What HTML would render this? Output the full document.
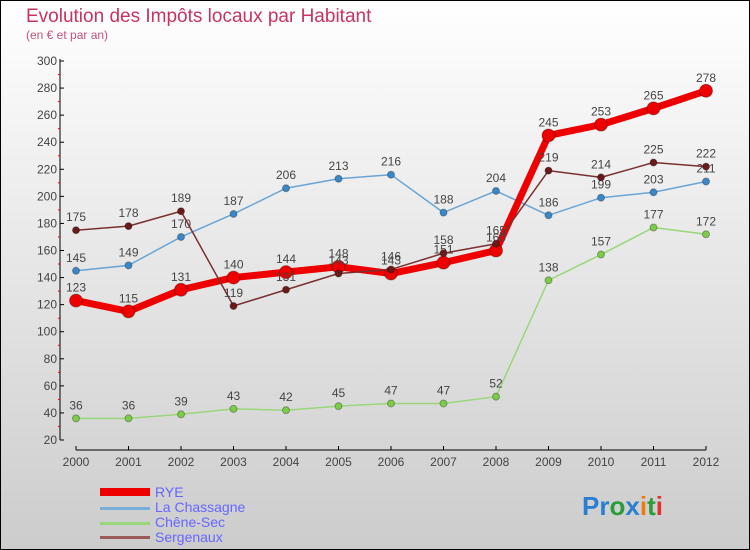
<!DOCTYPE html>
<html><head><meta charset="utf-8"><style>
body{margin:0;width:750px;height:550px;overflow:hidden}
svg{display:block;font-family:"Liberation Sans",sans-serif}
</style></head><body>
<svg id="c" width="750" height="550">
<defs><linearGradient id="bg" x1="0" y1="0" x2="0" y2="1"><stop offset="0" stop-color="#ffffff"/><stop offset="1" stop-color="#cccccc"/></linearGradient></defs>
<rect x="0.5" y="0.5" width="749" height="549" fill="url(#bg)" stroke="#000"/>
<text x="26" y="22" font-size="19" fill="#c8335f">Evolution des Impôts locaux par Habitant</text>
<text x="26" y="39" font-size="12" fill="#c8507a">(en € et par an)</text>
<g id="axes"></g><g id="series"></g>
<g>
<rect x="100" y="488" width="50" height="8" fill="#e00"/>
<text x="155" y="497" font-size="14" fill="#6666ff">RYE</text>
<rect x="100" y="507" width="50" height="3" fill="#7aaed6"/>
<text x="155" y="512" font-size="14" fill="#6666ff">La Chassagne</text>
<rect x="100" y="522" width="50" height="3" fill="#9ad67a"/>
<text x="155" y="527" font-size="14" fill="#6666ff">Chêne-Sec</text>
<rect x="100" y="536" width="50" height="3" fill="#9a5a5a"/>
<text x="155" y="542" font-size="14" fill="#6666ff">Sergenaux</text>
</g>
<text x="582" y="515" font-size="26" font-weight="bold"><tspan fill="#2a7fd0">Pr</tspan><tspan fill="#2a9d3a">o</tspan><tspan fill="#2a7fd0">x</tspan><tspan fill="#f07a10">i</tspan><tspan fill="#2a9d3a">t</tspan><tspan fill="#e03030">i</tspan></text>
</svg>
<script>
const years=["2000","2001","2002","2003","2004","2005","2006","2007","2008","2009","2010","2011","2012"];
const yTicks=[20,40,60,80,100,120,140,160,180,200,220,240,260,280,300];
const rye=[123,115,131,140,144,148,143,151,160,245,253,265,278];
const laChassagne=[145,149,170,187,206,213,216,188,204,186,199,203,211];
const cheneSec=[36,36,39,43,42,45,47,47,52,138,157,177,172];
const sergenaux=[175,178,189,119,131,143,146,158,165,219,214,225,222];
const NS="http://www.w3.org/2000/svg";
const X=i=>76+i*52.5, Y=v=>440-(v-20)*(379/280);
function mk(t,a,p){const e=document.createElementNS(NS,t);for(const k in a)e.setAttribute(k,a[k]);p.appendChild(e);return e;}
const ax=document.getElementById('axes');
let l=mk('line',{x1:60,y1:59,x2:60,y2:440,stroke:'#000'},ax);


l=mk('line',{x1:76,y1:450,x2:706,y2:450,stroke:'#000'},ax);


yTicks.forEach((v,i)=>{mk('line',{x1:60,y1:Y(v),x2:64,y2:Y(v),stroke:'#000'},ax);
if(i<yTicks.length-1)mk('line',{x1:58,y1:Y(v+10),x2:60,y2:Y(v+10),stroke:'#e00'},ax);
const t=mk('text',{x:57,y:Y(v)+4,'font-size':12,fill:'#444','text-anchor':'end'},ax);t.textContent=v;

});
years.forEach((y,i)=>{mk('line',{x1:X(i),y1:446,x2:X(i),y2:450,stroke:'#000'},ax);
const t=mk('text',{x:X(i),y:466,'font-size':12,fill:'#444','text-anchor':'middle'},ax);t.textContent=y;

});
const sg=document.getElementById('series');
function series(d,name,col,w,r,dot){const g=mk('g',{},sg);


mk('polyline',{points:d.map((v,i)=>X(i)+','+Y(v)).join(' '),fill:'none',stroke:col,'stroke-width':w,'stroke-linejoin':'round'},g);
d.forEach((v,i)=>{const c=mk('circle',{cx:X(i),cy:Y(v),r:r,fill:dot,stroke:'rgba(0,0,0,0.3)'},g);


const t=mk('text',{x:X(i),y:Y(v)-9,'font-size':12,fill:'#444','text-anchor':'middle'},g);t.textContent=v;

});}
series(cheneSec,'chene-sec','#9ad67a',1.5,3.5,'#7ccc4a');
series(laChassagne,'la-chassagne','#6aa4d4',1.5,3.5,'#3a88c8');
series(rye,'rye','#ee0000',7,6.5,'#ee0000');
series(sergenaux,'sergenaux','#7a3030',1.5,3.5,'#6a1a1a');
</script>
</body></html>
